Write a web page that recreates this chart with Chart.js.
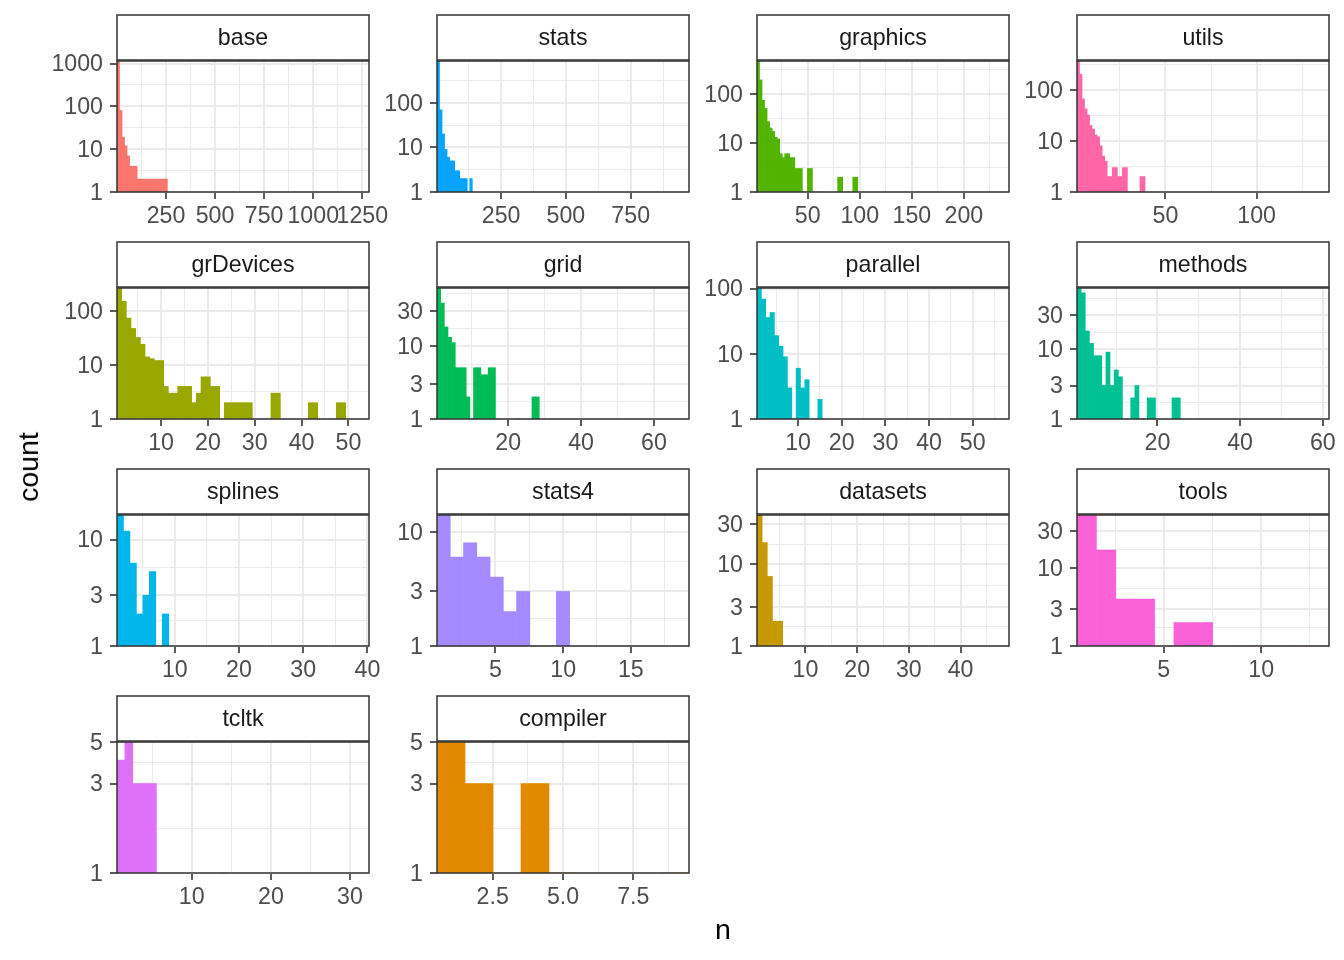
<!DOCTYPE html>
<html>
<head>
<meta charset="utf-8">
<script src="https://cdn.jsdelivr.net/npm/chart.js@4.4.1/dist/chart.umd.min.js"></script>
<style>
  body { margin: 0; background: #fff; }
  #wrap { position: relative; width: 1344px; height: 960px; overflow: hidden; background: #fff; }
  #wrap canvas { position: absolute; }
  .axis-title {
    position: absolute; z-index: 2;
    font-family: "Liberation Sans", Arial, Helvetica, sans-serif;
    font-size: 28.5px; line-height: 28px; color: #000; white-space: nowrap;
  }
  #ytitle { left: 28px; top: 467px; transform: translate(-50%, -50%) rotate(-90deg); }
  #xtitle { left: 723px; top: 929px; transform: translate(-50%, -50%); }
</style>
</head>
<body>
<div id="wrap">
  <div class="axis-title" id="ytitle">count</div>
  <div class="axis-title" id="xtitle">n</div>
</div>
<script>
// ---- facets ----
const panels = ['base', 'stats', 'graphics', 'utils', 'grDevices', 'grid', 'parallel',
                'methods', 'splines', 'stats4', 'datasets', 'tools', 'tcltk', 'compiler'];
const fills = ['#F8766D', '#06A4FF', '#53B400', '#FF66A8', '#99A800', '#00BC56', '#00BFC4',
               '#00C094', '#00B6EB', '#A58AFF', '#C49A00', '#FB61D7', '#DF70F8', '#E38900'];

// x range of every panel (edges of the histogram bins) and number of bins
const xLo = [0.5, 2.5, 1.3, 1.5, 0.59, 0.49, 0.6, 0.55, 1.0, 0.68, 0.65, 0.55, 0.55, 0.52];
const xHi = [1284, 975, 243.3, 139.7, 54.4, 69.6, 58.3, 61.5, 40.25, 19.3, 49.35, 13.48, 32.4, 9.48];
const nBins = [100, 100, 100, 100, 54, 69, 58, 61, 39, 19, 49, 13, 32, 9];

// counts per bin, starting at the left edge (bins not listed are empty)
const countsBase = [1150, 80, 19, 12, 7, 4, 4, 4, 2, 2, 2, 2, 2, 2, 2, 2, 2, 2, 2, 2];
const countsStats = [875, 70, 20, 9, 6, 5, 5, 3, 3, 2, 2, 2, 1, 2];
const countsGraphics = [460, 190, 73, 50, 27, 20, 17, 13, 12, 6, 5, 6, 6, 5, 5, 3, 3, 3, 1, 1,
                        3, 3, 1, 1, 0, 1, 0, 0, 1, 0, 0, 1, 2, 2, 0, 0, 1, 0, 2, 2];
const countsUtils = [363, 200, 66, 42, 32, 20, 17, 13, 12, 8, 5, 4, 2, 2, 3, 3, 2, 2, 3, 3,
                     1, 0, 1, 0, 1, 2, 2];
const countsGrDevices = [262, 149, 73, 47, 32, 24, 14, 13, 12, 12, 4, 3, 3, 4, 4, 4, 2, 3, 6, 6,
                         4, 4, 1, 2, 2, 2, 2, 2, 2, 1, 0, 1, 0, 3, 3, 0, 1, 0, 0, 0,
                         0, 2, 2, 0, 0, 1, 0, 2, 2];
const countsGrid = [61, 38, 18, 13, 11, 5, 5, 5, 2, 1, 5, 5, 4, 4, 5, 5, 1, 0, 0, 1,
                    0, 0, 1, 0, 0, 0, 2, 2];
const countsParallel = [102, 69, 36, 43, 19, 13, 9, 3, 1, 6, 3, 4, 1, 1, 2];
const countsMethods = [74, 63, 18, 12, 8, 8, 3, 9, 3, 5, 4, 1, 1, 2, 3, 1, 1, 2, 2, 1, 0, 1, 0, 2, 2];
const countsSplines = [17, 12, 6, 2, 3, 5, 1, 2];
const countsStats4 = [14, 6, 8, 6, 4, 2, 3, 1, 1, 3];
const countsDatasets = [39, 18, 7, 2, 2];
const countsTools = [48, 17, 4, 4, 0, 2, 2, 0, 1, 1, 1, 1, 1];
const countsTcltk = [4, 5, 3, 3, 3, 0, 0, 0, 0, 0, 0, 0, 0, 1];
const countsCompiler = [5, 3, 0, 3, 1, 0, 0, 0, 1];
const counts = [countsBase, countsStats, countsGraphics, countsUtils, countsGrDevices, countsGrid,
                countsParallel, countsMethods, countsSplines, countsStats4, countsDatasets,
                countsTools, countsTcltk, countsCompiler];

// tick labels
const xBreaks = [
  ['250', '500', '750', '1000', '1250'], ['250', '500', '750'], ['50', '100', '150', '200'], ['50', '100'],
  ['10', '20', '30', '40', '50'], ['20', '40', '60'], ['10', '20', '30', '40', '50'], ['20', '40', '60'],
  ['10', '20', '30', '40'], ['5', '10', '15'], ['10', '20', '30', '40'], ['5', '10'],
  ['10', '20', '30'], ['2.5', '5.0', '7.5']
];
const yBreaks = [
  ['1', '10', '100', '1000'], ['1', '10', '100'], ['1', '10', '100'], ['1', '10', '100'],
  ['1', '10', '100'], ['1', '3', '10', '30'], ['1', '10', '100'], ['1', '3', '10', '30'],
  ['1', '3', '10'], ['1', '3', '10'], ['1', '3', '10', '30'], ['1', '3', '10', '30'],
  ['1', '3', '5'], ['1', '3', '5']
];

// ---- layout ----
const colLeft = [117, 437, 757, 1077];
const rowTop = [61, 288, 515, 742];
const plotW = 252, plotH = 131;
const axisW = 90, axisH = 45, padR = 35, padT = 51, stripH = 45;
const FONT = '"Liberation Sans", Arial, Helvetica, sans-serif';
const TXT = 23.2;

Chart.defaults.font.family = FONT;
Chart.defaults.font.size = TXT;
Chart.defaults.color = '#4D4D4D';

// minor breaks the ggplot way: midpoints, one extra step beyond each end
function minorBreaks(b, lo, hi) {
  const d = b[1] - b[0];
  const ext = b.slice();
  if (lo < b[0]) ext.unshift(b[0] - d);
  if (hi > b[b.length - 1]) ext.push(b[b.length - 1] + d);
  const out = [];
  for (let k = 0; k < ext.length - 1; k++) {
    const m = (ext[k] + ext[k + 1]) / 2;
    if (m > lo && m < hi) out.push(m);
  }
  return out;
}

function buildTicks(labels, lo, hi, isLog) {
  const maj = labels.map(Number);
  const tr = isLog ? maj.map(Math.log10) : maj;
  const tlo = isLog ? Math.log10(lo) : lo;
  const thi = isLog ? Math.log10(hi) : hi;
  const mins = minorBreaks(tr, tlo, thi).map(m => (isLog ? Math.pow(10, m) : m));
  return maj.map((v, k) => ({ value: v, isMaj: true, lab: labels[k] }))
    .concat(mins.map(v => ({ value: v, isMaj: false, lab: '' })))
    .sort((a, b) => a.value - b.value);
}

function axisOpts(ticks, pad, shift, fit) {
  return {
    bounds: 'data',
    offset: false,
    border: { display: false },
    grid: {
      offset: false,
      color: '#EBEBEB',
      lineWidth: c => (c.tick && c.tick.isMaj ? 2 : 1),
      drawTicks: true,
      tickLength: 7,
      tickWidth: 1.6,
      tickColor: c => (c.tick && c.tick.isMaj ? '#333333' : 'rgba(0,0,0,0)')
    },
    ticks: {
      autoSkip: false, maxRotation: 0, minRotation: 0, padding: pad,
      labelOffset: shift,
      color: '#4D4D4D',
      major: { enabled: false },
      callback: (v, k, tk) => (tk[k] && tk[k].isMaj ? tk[k].lab : '')
    },
    afterBuildTicks: s => { s.ticks = ticks.map(t => Object.assign({}, t)); },
    afterFit: fit
  };
}

// strip on top + panel border
const stripPlugin = {
  id: 'strip',
  afterDraw(chart, args, opts) {
    const { ctx, chartArea: a } = chart;
    const w = a.right - a.left;
    ctx.save();
    ctx.fillStyle = '#FFFFFF';
    ctx.fillRect(a.left, a.top - stripH - 1, w, stripH);
    ctx.strokeStyle = '#333333';
    ctx.lineWidth = 1.5;
    ctx.strokeRect(a.left, a.top - stripH - 1, w, stripH);
    ctx.strokeRect(a.left, a.top, w, a.bottom - a.top);
    ctx.fillStyle = '#1A1A1A';
    ctx.font = TXT + 'px ' + FONT;
    ctx.textAlign = 'center';
    ctx.textBaseline = 'middle';
    ctx.fillText(opts.label, (a.left + a.right) / 2, a.top - stripH / 2 + 0.5);
    ctx.restore();
  }
};

const wrap = document.getElementById('wrap');

panels.forEach((name, i) => {
  const col = i % 4, row = Math.floor(i / 4);
  const cv = document.createElement('canvas');
  const cw = axisW + plotW + padR, ch = padT + plotH + axisH;
  cv.width = cw; cv.height = ch;
  cv.style.left = (colLeft[col] - axisW) + 'px';
  cv.style.top = (rowTop[row] - padT) + 'px';
  cv.style.width = cw + 'px'; cv.style.height = ch + 'px';
  wrap.insertBefore(cv, wrap.firstChild);

  const bw = (xHi[i] - xLo[i]) / nBins[i];
  const pts = counts[i].map((c, k) => ({ x: xLo[i] + (k + 0.5) * bw, y: c > 0 ? c : null }));
  const yMax = Math.max(...counts[i]);

  new Chart(cv, {
    type: 'bar',
    data: {
      datasets: [{
        data: pts,
        backgroundColor: fills[i],
        borderWidth: 0,
        barPercentage: 1,
        categoryPercentage: 1,
        barThickness: 'flex'
      }]
    },
    options: {
      responsive: false,
      animation: false,
      devicePixelRatio: 1,
      layout: { padding: { left: 0, right: padR, top: padT, bottom: 0 } },
      plugins: {
        legend: { display: false },
        tooltip: { enabled: false },
        strip: { label: name }
      },
      scales: {
        x: Object.assign({ type: 'linear', min: xLo[i], max: xHi[i] },
          axisOpts(buildTicks(xBreaks[i], xLo[i], xHi[i], false), 4, 0, s => { s.height = axisH; })),
        y: Object.assign({ type: 'logarithmic', min: 1, max: yMax },
          axisOpts(buildTicks(yBreaks[i], 1, yMax, true), 7, 1.5, s => { s.width = axisW; }))
      }
    },
    plugins: [stripPlugin]
  });
});
</script>
</body>
</html>
